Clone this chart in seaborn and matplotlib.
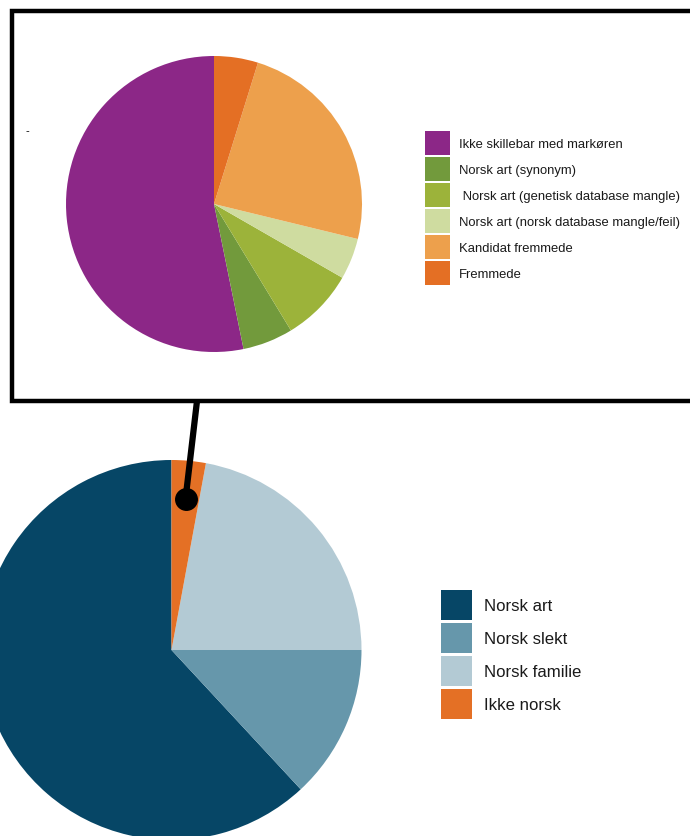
import matplotlib
matplotlib.use("Agg")
import matplotlib.pyplot as plt
from matplotlib.patches import Rectangle
from matplotlib.lines import Line2D
import seaborn as sns

# detail pie (inside the box)
detail_labels = [
    "Ikke skillebar med markøren",
    "Norsk art (synonym)",
    " Norsk art (genetisk database mangle)",
    "Norsk art (norsk database mangle/feil)",
    "Kandidat fremmede",
    "Fremmede",
]
detail_values = [53.2, 5.5, 8.0, 4.5, 24.0, 4.8]
detail_colors = ["#8c2787", "#729a3c", "#9cb33a", "#cfdca0", "#eda04c", "#e46f24"]

# main pie
main_labels = ["Norsk art", "Norsk slekt", "Norsk familie", "Ikke norsk"]
main_values = [61.9, 13.1, 22.1, 2.9]
main_colors = ["#064666", "#6697ab", "#b3cad4", "#e47025"]

W, H = 690, 837


def fig_rect(x0, y0, x1, y1):
    # pixel box (top-left origin) -> figure fraction
    return [x0 / W, 1 - y1 / H, (x1 - x0) / W, (y1 - y0) / H]


sns.set_theme(style="white")
plt.rcParams["font.family"] = ["Liberation Sans", "DejaVu Sans"]

fig = plt.figure(figsize=(W / 100, H / 100), dpi=100)
fig.patch.set_facecolor("white")

# bottom pie
ax_main = fig.add_axes(fig_rect(-18.5, 461, 361.5, 841))
wedges_main, _ = ax_main.pie(main_values, colors=sns.color_palette(main_colors),
                             startangle=90, counterclock=True,
                             wedgeprops=dict(linewidth=0))
ax_main.set_xlim(-1, 1)
ax_main.set_ylim(-1, 1)
ax_main.set_aspect("equal")
ax_main.axis("off")

# box around the detail pie
box = Rectangle((11.5 / W, 1 - 402 / H), (720 - 11.5) / W, (402 - 12) / H,
                transform=fig.transFigure, facecolor="white", edgecolor="black",
                linewidth=3.2, zorder=1)
fig.add_artist(box)

ax_det = fig.add_axes(fig_rect(66, 57, 362, 353))
ax_det.set_zorder(3)
wedges_det, _ = ax_det.pie(detail_values, colors=sns.color_palette(detail_colors),
                           startangle=90, counterclock=True,
                           wedgeprops=dict(linewidth=0))
ax_det.set_xlim(-1, 1)
ax_det.set_ylim(-1, 1)
ax_det.set_aspect("equal")
ax_det.axis("off")

# connector line with dot
conn = Line2D([197 / W, 185.5 / W], [1 - 402 / H, 1 - 500 / H],
              transform=fig.transFigure, color="black", linewidth=4.5,
              solid_capstyle="butt", zorder=4)
fig.add_artist(conn)
dot = Line2D([185.5 / W], [1 - 500 / H], transform=fig.transFigure,
             marker="o", markersize=15.5, color="black", zorder=4)
fig.add_artist(dot)

fig.text(26 / W, 1 - 131 / H, "-", fontsize=8, color="black", va="center")

leg1 = fig.legend(wedges_det, detail_labels, loc="upper left",
                  bbox_to_anchor=(425 / W, 1 - 132 / H), frameon=False,
                  fontsize=9.4, handlelength=1.91, handleheight=2.45,
                  labelspacing=0.15, handletextpad=0.69,
                  borderpad=0, borderaxespad=0)
leg1.set_zorder(5)
for t in leg1.get_texts():
    t.set_color("#1a1a1a")

leg2 = fig.legend(wedges_main, main_labels, loc="upper left",
                  bbox_to_anchor=(441 / W, 1 - 591 / H), frameon=False,
                  fontsize=12.1, handlelength=1.85, handleheight=2.37,
                  labelspacing=0.18, handletextpad=0.71,
                  borderpad=0, borderaxespad=0)
leg2.set_zorder(5)
for t in leg2.get_texts():
    t.set_color("#1a1a1a")

fig.savefig("out.png", dpi=100)
